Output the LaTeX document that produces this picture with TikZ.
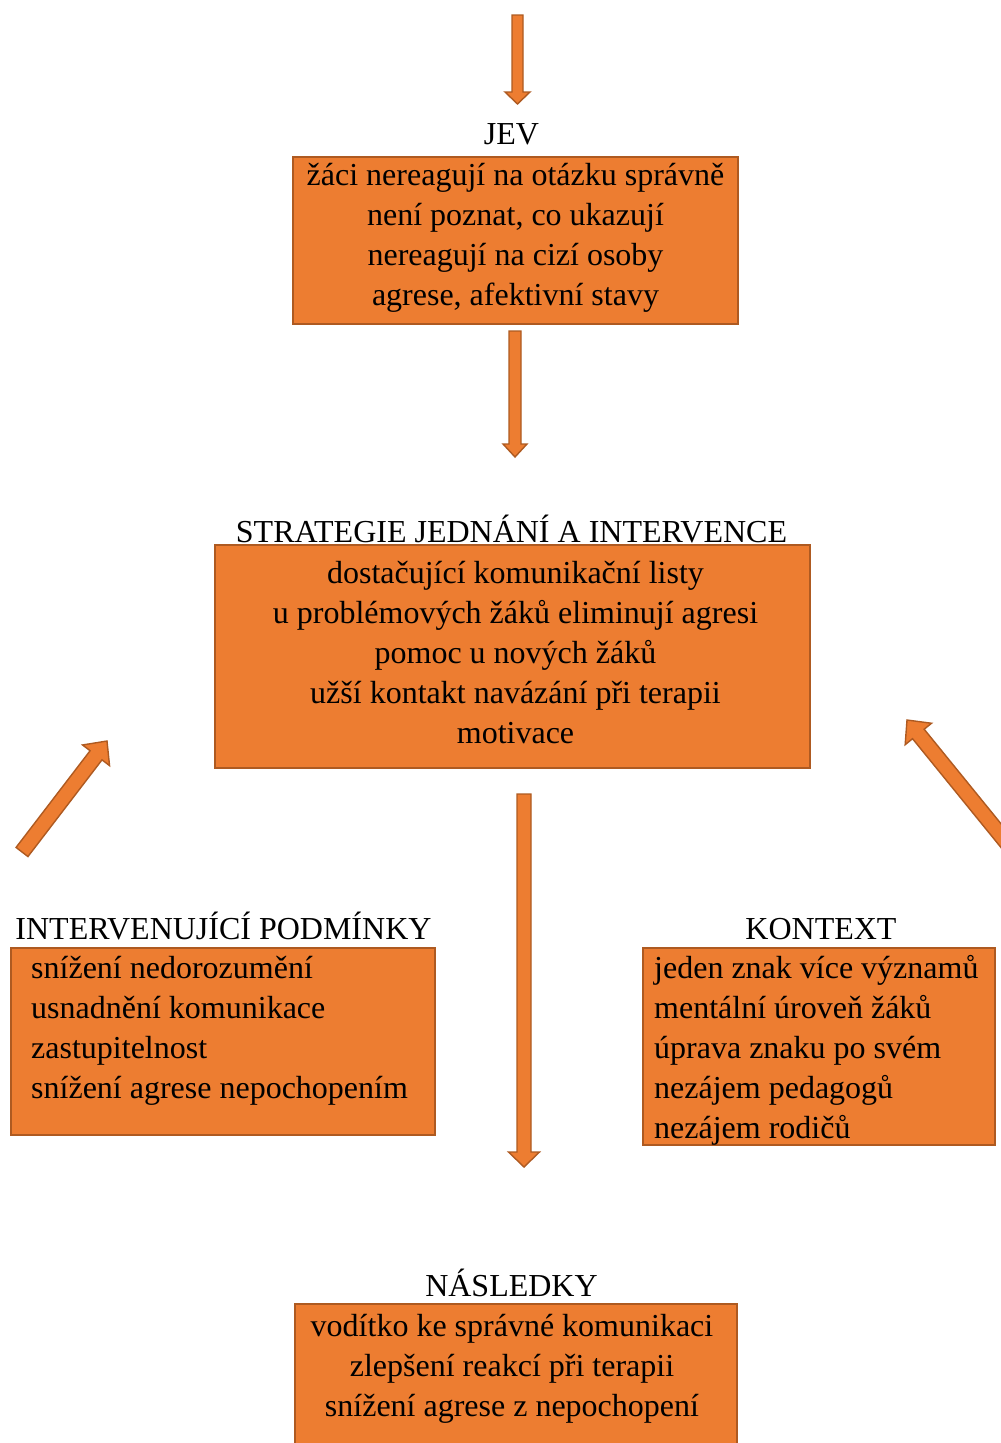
\documentclass[tikz,border=0pt]{standalone}
\usepackage{fontspec}
\setmainfont{Liberation Serif}
\usetikzlibrary{calc}
\definecolor{orfill}{HTML}{ED7D31}
\definecolor{orline}{HTML}{AE5A21}
\newcommand{\blockarr}[5]{%
  \path ($(#2)!#5!(#1)$) coordinate (ba-c);
  \filldraw[arrowbody] ($(#1)!#3!90:(#2)$) -- ($(ba-c)!#3!90:(#2)$) -- ($(ba-c)!#4!90:(#2)$) -- (#2) -- ($(ba-c)!#4!-90:(#2)$) -- ($(ba-c)!#3!-90:(#2)$) -- ($(#1)!#3!-90:(#2)$) -- cycle;
}
\begin{document}
\begin{tikzpicture}[x=1pt,y=-1pt,
  font=\fontsize{32}{40}\selectfont,
  box/.style={draw=orline, fill=orfill, line width=1.6pt, inner sep=0pt, outer sep=0pt},
  txt/.style={inner sep=0pt, align=center},
  txtl/.style={inner sep=0pt, align=left, anchor=west},
  ttl/.style={inner sep=0pt, anchor=base},
  arrowbody/.style={fill=orfill, draw=orline, line width=1.4pt, line join=miter}]
\useasboundingbox (0,0) rectangle (1001,1443);
% boxes
\node[box, minimum width=445pt, minimum height=167pt] (jev) at (515.5,240.5) {};
\node[box, minimum width=595pt, minimum height=223pt] (str) at (512.5,656.5) {};
\node[box, minimum width=424pt, minimum height=187pt] (ip) at (223,1041.5) {};
\node[box, minimum width=352pt, minimum height=197pt] (kon) at (819,1046.5) {};
\node[box, minimum width=442pt, minimum height=160pt] (nas) at (516,1384) {};
% titles
\node[ttl] (jevl) at (511.5,144) {JEV};
\node[ttl] (strl) at (511.5,542) {STRATEGIE JEDNÁNÍ A INTERVENCE};
\node[ttl] (ipl) at (223.5,939) {INTERVENUJÍCÍ PODMÍNKY};
\node[ttl] (konl) at (821,939) {KONTEXT};
\node[ttl] (nasl) at (511.5,1296) {NÁSLEDKY};
% texts
\node[txt] (jevt) at (515.5,237.5) {žáci nereagují na otázku správně\\není poznat, co ukazují\\nereagují na cizí osoby\\agrese, afektivní stavy};
\node[txt] (strt) at (515.5,653) {dostačující komunikační listy\\u problémových žáků eliminují agresi\\pomoc u nových žáků\\užší kontakt navázání při terapii\\motivace};
\node[txtl] (ipt) at (31,1031) {snížení nedorozumění\\usnadnění komunikace\\zastupitelnost\\snížení agrese nepochopením};
\node[txtl] (kont) at (654,1050.5) {jeden znak více významů\\mentální úroveň žáků\\úprava znaku po svém\\nezájem pedagogů\\nezájem rodičů};
\node[txt] (nast) at (512,1369) {vodítko ke správné komunikaci\\zlepšení reakcí při terapii\\snížení agrese z nepochopení};
% arrows
\coordinate (a1s) at (517.5,15);  \coordinate (a1e) at (517.5,104);
\coordinate (a2s) at (515,331);   \coordinate (a2e) at (515,457);
\coordinate (a3s) at (22,852);    \coordinate (a3e) at (107,741);
\coordinate (a4s) at (1020,859);  \coordinate (a4e) at (907,720);
\coordinate (a5s) at (524,794);   \coordinate (a5e) at (524,1167);
\blockarr{a1s}{a1e}{5.5pt}{12.5pt}{12pt}
\blockarr{a2s}{a2e}{6pt}{12pt}{13pt}
\blockarr{a3s}{a3e}{7.5pt}{17pt}{18pt}
\blockarr{a4s}{a4e}{7.5pt}{17pt}{18pt}
\blockarr{a5s}{a5e}{7pt}{15.5pt}{15pt}
\end{tikzpicture}
\end{document}
